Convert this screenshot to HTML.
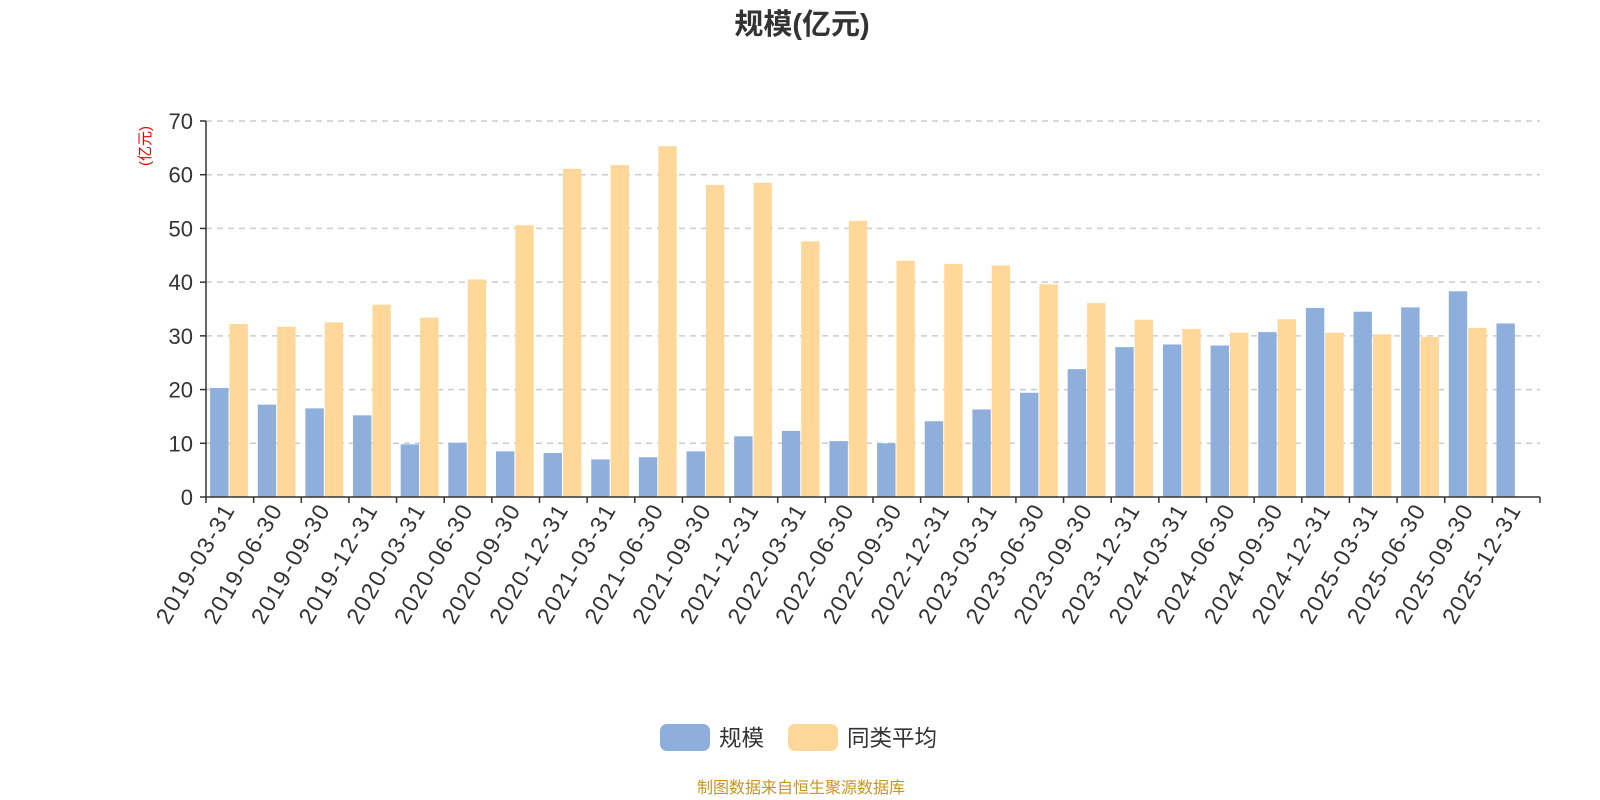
<!DOCTYPE html>
<html><head><meta charset="utf-8"><style>body{margin:0;background:#fff}svg{display:block}text{font-family:"Liberation Sans","Noto Sans CJK SC",sans-serif}</style></head><body>
<svg width="1600" height="800" xmlns="http://www.w3.org/2000/svg">
<text x="802" y="34" text-anchor="middle" font-size="29" font-weight="bold" fill="#333">规模(亿元)</text>
<text transform="translate(150,146) rotate(-90)" text-anchor="middle" font-size="15" fill="#e00">(亿元)</text>
<g id="grid" stroke="#ccc" stroke-dasharray="6,5" stroke-width="1.5"></g>
<g id="bars"></g>
<g id="axis" stroke="#333" stroke-width="1.5"></g>
<g id="labels" font-size="22" fill="#333"></g>
<g id="xl" font-size="23" fill="#333" letter-spacing="1.7"></g>
<rect x="660" y="724" width="50" height="27" rx="7" fill="#8eaedb"/>
<text x="719" y="746" font-size="22.5" fill="#333">规模</text>
<rect x="788" y="724" width="50" height="27" rx="7" fill="#ffd899"/>
<text x="847" y="746" font-size="22.5" fill="#333">同类平均</text>
<text x="801" y="793" text-anchor="middle" font-size="16" fill="#c8961e">制图数据来自恒生聚源数据库</text>
</svg>
<script>
const ns="http://www.w3.org/2000/svg";
function el(p,t,a,txt){const e=document.createElementNS(ns,t);for(const k in a)e.setAttribute(k,a[k]);if(txt!=null)e.textContent=txt;document.getElementById(p).appendChild(e);}
const X0=206,X1=1540,Y0=497,S=376/70;
const cats=["2019-03-31","2019-06-30","2019-09-30","2019-12-31","2020-03-31","2020-06-30","2020-09-30","2020-12-31","2021-03-31","2021-06-30","2021-09-30","2021-12-31","2022-03-31","2022-06-30","2022-09-30","2022-12-31","2023-03-31","2023-06-30","2023-09-30","2023-12-31","2024-03-31","2024-06-30","2024-09-30","2024-12-31","2025-03-31","2025-06-30","2025-09-30","2025-12-31"];
const a=[20.3,17.2,16.5,15.2,9.8,10.1,8.5,8.2,7.0,7.4,8.5,11.3,12.3,10.4,10.0,14.1,16.3,19.4,23.8,27.9,28.4,28.2,30.7,35.2,34.5,35.3,38.3,32.3];
const b=[32.2,31.7,32.5,35.8,33.4,40.5,50.6,61.1,61.8,65.3,58.1,58.5,47.6,51.4,44.0,43.4,43.1,39.6,36.1,33.0,31.3,30.6,33.1,30.6,30.3,29.8,31.5,null];
for(let v=0;v<=70;v+=10){const y=Y0-v*S;if(v>0)el("grid","line",{x1:X0,x2:X1,y1:y,y2:y});
el("axis","line",{x1:X0-6,x2:X0,y1:y,y2:y});el("labels","text",{x:X0-13,y:y+8,"text-anchor":"end"},v);}
const w=(X1-X0)/28;
cats.forEach((c,i)=>{const x=X0+i*w;
el("bars","rect",{x:x+4.1,y:Y0-a[i]*S,width:18.4,height:a[i]*S,fill:"#8eaedb"});
if(b[i]!=null)el("bars","rect",{x:x+23.5,y:Y0-b[i]*S,width:18.4,height:b[i]*S,fill:"#ffd899"});
el("axis","line",{x1:x,x2:x,y1:Y0,y2:Y0+6});
const cx=x+w/2;el("xl","text",{transform:`translate(${cx+6},${Y0+12}) rotate(-60)`,"text-anchor":"end"},c);});
el("axis","line",{x1:X1,x2:X1,y1:Y0,y2:Y0+6});
el("axis","line",{x1:X0,x2:X0,y1:121,y2:Y0});
el("axis","line",{x1:X0,x2:X1,y1:Y0,y2:Y0});
</script>
</body></html>
